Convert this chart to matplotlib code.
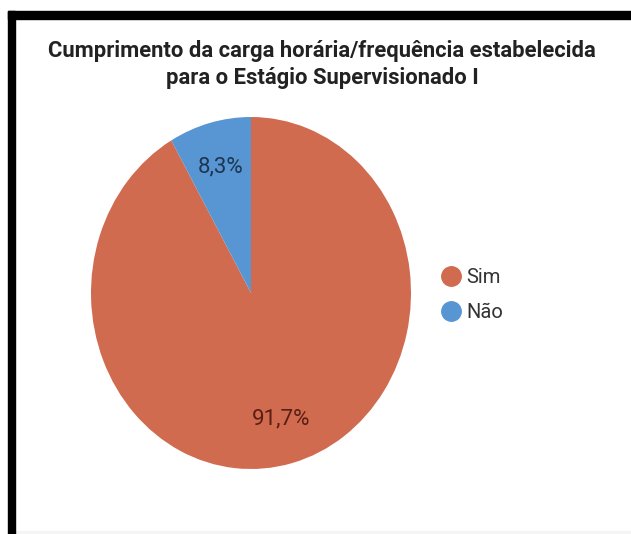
import matplotlib
matplotlib.use("Agg")
import matplotlib.pyplot as plt
from matplotlib.lines import Line2D
from matplotlib.patches import Rectangle

# dados do gráfico
categorias = ["Sim", "Não"]
percentuais = [91.7, 8.3]
cores = ["#D06B4F", "#5796D2"]
cores_rotulo = ["#5A1E14", "#1D3550"]
titulo = "Cumprimento da carga horária/frequência estabelecida\npara o Estágio Supervisionado I"

plt.rcParams['font.family'] = ['Roboto', 'DejaVu Sans']

W, H = 631, 534
fig = plt.figure(figsize=(W / 100, H / 100), dpi=100)
fig.patch.set_facecolor("white")

# moldura preta (topo e lado esquerdo)
fig.patches.append(Rectangle((8 / W, 1 - 19 / H), 1 - 8 / W, 8 / H,
                             transform=fig.transFigure, color="black", zorder=5))
fig.patches.append(Rectangle((8 / W, 0), 7 / W, 1 - 11 / H,
                             transform=fig.transFigure, color="black", zorder=5))
fig.patches.append(Rectangle((15 / W, 1 / H), 1 - 15 / W, 2 / H,
                             transform=fig.transFigure, color="#f5f5f5", zorder=4))

fig.text(322 / W, 1 - 64.5 / H, titulo, ha="center", va="center",
         fontsize=15.8, fontweight="bold", color="#222222", linespacing=1.3)

# pizza levemente elíptica
cx, cy, rx, ry = 251, 534 - 293, 160, 176
ax = fig.add_axes([(cx - rx) / W, (cy - ry) / H, 2 * rx / W, 2 * ry / H])
fatias, textos, autot = ax.pie(
    percentuais, colors=cores, startangle=90, counterclock=False,
    autopct=lambda p: f"{p:.1f}%".replace(".", ","), pctdistance=0.74,
    wedgeprops=dict(linewidth=0), textprops=dict(fontsize=16))
for t, c in zip(autot, cores_rotulo):
    t.set_color(c)
ax.set_aspect("auto")
ax.set_xlim(-1, 1)
ax.set_ylim(-1, 1)
ax.axis("off")

alcas = [Line2D([], [], marker="o", linestyle="none", markersize=14,
                markerfacecolor=c, markeredgecolor=c) for c in cores]
fig.legend(alcas, categorias, loc="center left",
           bbox_to_anchor=(424 / W, 1 - 295 / H), frameon=False,
           fontsize=14.5, labelcolor="#333333", handlelength=0.9,
           handletextpad=0.3, labelspacing=0.75)

fig.savefig("out.png", dpi=100)
